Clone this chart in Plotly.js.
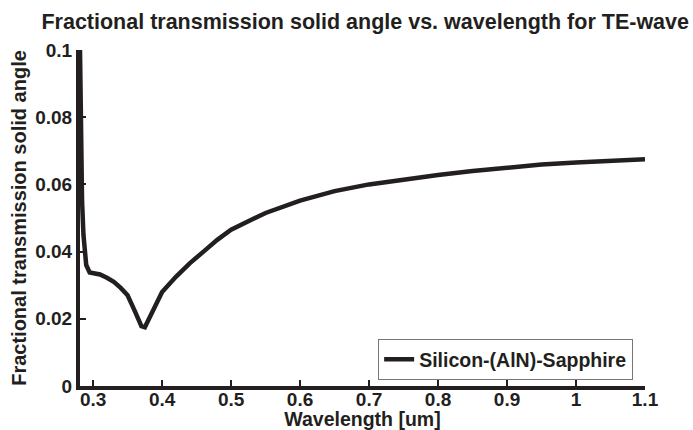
<!DOCTYPE html>
<html>
<head>
<meta charset="utf-8">
<script src="https://cdn.plot.ly/plotly-3.0.1.min.js"></script>
<style>html,body{margin:0;padding:0;background:#fff;}#chart{width:693px;height:430px;}</style>
</head>
<body>
<div id="chart"></div>
<script>
const wavelength = [0.281, 0.2825, 0.284, 0.286, 0.29, 0.295, 0.30, 0.31, 0.32, 0.33, 0.34, 0.35, 0.36, 0.37, 0.375, 0.38, 0.39, 0.40, 0.42, 0.44, 0.46, 0.48, 0.50, 0.55, 0.60, 0.65, 0.70, 0.75, 0.80, 0.85, 0.90, 0.95, 1.00, 1.05, 1.10];
const solidAngle = [0.100, 0.075, 0.055, 0.045, 0.036, 0.0338, 0.0335, 0.0332, 0.0322, 0.031, 0.0292, 0.027, 0.0225, 0.0178, 0.0175, 0.0195, 0.024, 0.028, 0.0325, 0.0365, 0.040, 0.0435, 0.0465, 0.0515, 0.0552, 0.058, 0.0600, 0.0615, 0.0628, 0.0640, 0.0650, 0.0659, 0.0665, 0.0670, 0.0675];
const seriesName = "Silicon-(AlN)-Sapphire";
const xTicks = [0.3, 0.4, 0.5, 0.6, 0.7, 0.8, 0.9, 1.0, 1.1];
const yTicks = [0, 0.02, 0.04, 0.06, 0.08, 0.1];

const fontFam = "Liberation Sans, Arial, sans-serif";
const trace = {
  x: wavelength, y: solidAngle, type: 'scatter', mode: 'lines', name: seriesName,
  line: {color: '#231f20', width: 4.5}
};
const layout = {
  width: 693, height: 430,
  margin: {l: 80, r: 48, t: 50, b: 44},
  paper_bgcolor: '#fff', plot_bgcolor: '#fff',
  font: {family: fontFam, color: '#231f20', size: 19, weight: 'bold'},
  title: {text: 'Fractional transmission solid angle vs. wavelength for TE-wave',
    font: {family: fontFam, size: 21.5, weight: 'bold', color: '#231f20'},
    x: 0.527, xanchor: 'center', y: 0.95, yanchor: 'middle'},
  xaxis: {range: [0.281, 1.1], tickvals: xTicks, ticks: 'inside', ticklen: 6, tickwidth: 2,
    tickcolor: '#231f20', showline: true, linewidth: 4, linecolor: '#231f20', showgrid: false, zeroline: false,
    ticklabelstandoff: -7,
    tickfont: {family: fontFam, size: 19, weight: 'bold'},
    title: {text: 'Wavelength [um]', font: {family: fontFam, size: 19.5, weight: 'bold'}, standoff: 3}},
  yaxis: {range: [0, 0.1], tickvals: yTicks, ticks: 'inside', ticklen: 6, tickwidth: 2,
    tickcolor: '#231f20', showline: true, linewidth: 4, linecolor: '#231f20', showgrid: false, zeroline: false,
    tickfont: {family: fontFam, size: 19, weight: 'bold'},
    title: {text: 'Fractional transmission solid angle', font: {family: fontFam, size: 20, weight: 'bold'}, standoff: 4}},
  showlegend: true,
  legend: {x: 0.979, xanchor: 'right', y: 0.018, yanchor: 'bottom', bgcolor: '#fff',
    bordercolor: '#777', borderwidth: 1, font: {family: fontFam, size: 19.5, weight: 'bold'},
    itemwidth: 30, tracegroupgap: 0}
};
Plotly.newPlot('chart', [trace], layout, {staticPlot: true});
</script>
</body>
</html>
